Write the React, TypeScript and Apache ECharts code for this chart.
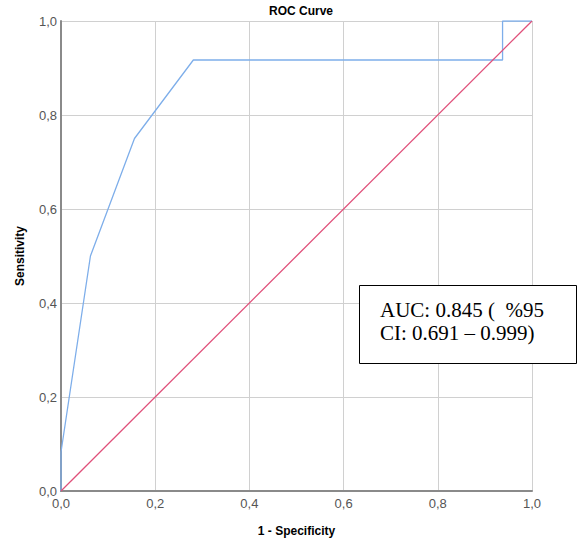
import React, { useEffect, useRef } from "react";
import * as echarts from "echarts";

const rocX = [0, 0, 0.0625, 0.156, 0.281, 0.9375, 0.9375, 1];
const rocY = [0, 0.083, 0.5, 0.75, 0.917, 0.917, 1, 1];
const refX = [0, 1];
const refY = [0, 1];
const boxLines = ["AUC: 0.845 (  %95", "CI: 0.691 – 0.999)"];

export default function App() {
  const ref = useRef<HTMLDivElement>(null);
  useEffect(() => {
    const chart = echarts.init(ref.current!, null, { renderer: "svg" });
    const fmt = (v: number) => v.toFixed(1).replace(".", ",");
    chart.setOption({
      animation: false,
      backgroundColor: "#ffffff",
      title: {
        text: "ROC Curve",
        left: 296,
        textAlign: "center",
        top: 0,
        textStyle: { fontFamily: "Liberation Sans, Arial, sans-serif", fontSize: 12, fontWeight: "bold", color: "#000" },
      },
      grid: { left: 61, right: 47, top: 21, bottom: 57, containLabel: false },
      xAxis: {
        type: "value",
        min: 0,
        max: 1,
        interval: 0.2,
        name: "1 - Specificity",
        nameLocation: "middle",
        nameGap: 34,
        nameTextStyle: { fontFamily: "Liberation Sans, Arial, sans-serif", fontSize: 12, fontWeight: "bold", color: "#000" },
        axisLine: { lineStyle: { color: "#8a8a8a", width: 2 } },
        axisTick: { show: false },
        axisLabel: { formatter: fmt, color: "#555", fontFamily: "Liberation Sans, Arial, sans-serif", fontSize: 13, margin: 6 },
        splitLine: { show: true, lineStyle: { color: "#d0d0d0", width: 1 } },
      },
      yAxis: {
        type: "value",
        min: 0,
        max: 1,
        interval: 0.2,
        name: "Sensitivity",
        nameLocation: "middle",
        nameGap: 35,
        nameTextStyle: { fontFamily: "Liberation Sans, Arial, sans-serif", fontSize: 12, fontWeight: "bold", color: "#000" },
        axisLine: { show: true, lineStyle: { color: "#8a8a8a", width: 2 } },
        axisTick: { show: false },
        axisLabel: { formatter: fmt, color: "#555", fontFamily: "Liberation Sans, Arial, sans-serif", fontSize: 13, margin: 4 },
        splitLine: { show: true, lineStyle: { color: "#d0d0d0", width: 1 } },
      },
      series: [
        {
          type: "line",
          data: refX.map((x, i) => [x, refY[i]]),
          symbol: "none",
          lineStyle: { color: "#e0507a", width: 1.3 },
          z: 3,
        },
        {
          type: "line",
          data: rocX.map((x, i) => [x, rocY[i]]),
          symbol: "none",
          lineStyle: { color: "#7eaeea", width: 1.3 },
          z: 2,
        },
      ],
      graphic: [
        {
          type: "rect",
          shape: { x: 359.5, y: 285.5, width: 217, height: 78 },
          style: { fill: "#fff", stroke: "#000", lineWidth: 1 },
          z: 10,
        },
        ...boxLines.map((t, i) => ({
          type: "text",
          x: 380,
          y: 299 + i * 23,
          style: { text: t, font: "21px 'Liberation Serif', 'Times New Roman', serif", fill: "#000", verticalAlign: "top" },
          z: 11,
        })),
      ],
    });
    return () => chart.dispose();
  }, []);
  return <div ref={ref} style={{ position: "absolute", left: 0, top: 0, width: 579, height: 548 }} />;
}
